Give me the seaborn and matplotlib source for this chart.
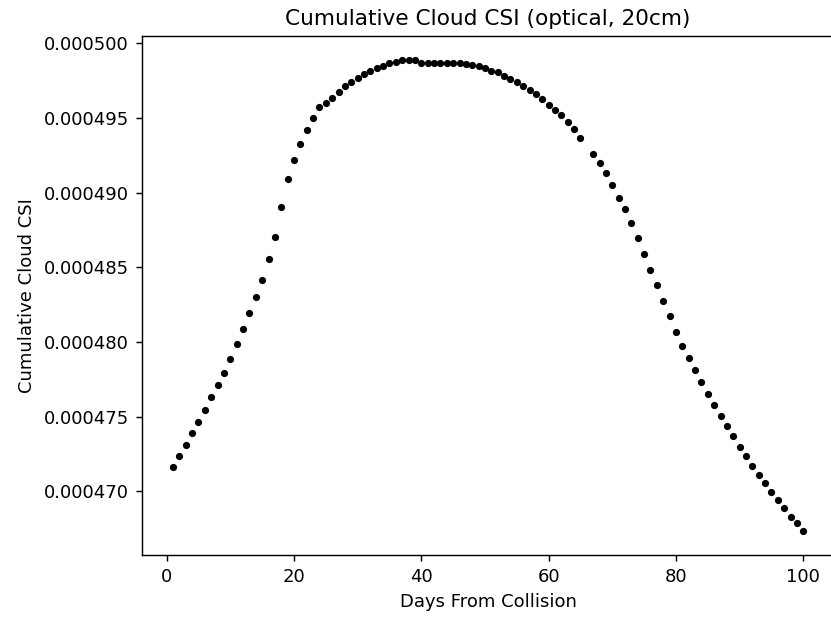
import matplotlib
matplotlib.use("Agg")
import matplotlib.pyplot as plt
import seaborn as sns
import pandas as pd

# Days after the collision (day 66 has no sample)
days = [1, 2, 3, 4, 5, 6, 7, 8, 9, 10,
        11, 12, 13, 14, 15, 16, 17, 18, 19, 20,
        21, 22, 23, 24, 25, 26, 27, 28, 29, 30,
        31, 32, 33, 34, 35, 36, 37, 38, 39, 40,
        41, 42, 43, 44, 45, 46, 47, 48, 49, 50,
        51, 52, 53, 54, 55, 56, 57, 58, 59, 60,
        61, 62, 63, 64, 65, 67, 68, 69, 70,
        71, 72, 73, 74, 75, 76, 77, 78, 79, 80,
        81, 82, 83, 84, 85, 86, 87, 88, 89, 90,
        91, 92, 93, 94, 95, 96, 97, 98, 99, 100]

# Cumulative cloud CSI for the optical sensor, 20 cm objects
csi = [0.00047165, 0.00047237, 0.00047310, 0.00047393, 0.00047462,
       0.00047545, 0.00047634, 0.00047714, 0.00047794, 0.00047886,
       0.00047985, 0.00048085, 0.00048194, 0.00048301, 0.00048417,
       0.00048554, 0.00048705, 0.00048906, 0.00049093, 0.00049221,
       0.00049328, 0.00049419, 0.00049500, 0.00049571, 0.00049602,
       0.00049636, 0.00049672, 0.00049716, 0.00049743, 0.00049770,
       0.00049796, 0.00049813, 0.00049835, 0.00049848, 0.00049865,
       0.00049877, 0.00049890, 0.00049890, 0.00049890, 0.00049870,
       0.00049870, 0.00049870, 0.00049870, 0.00049870, 0.00049870,
       0.00049870, 0.00049861, 0.00049853, 0.00049848, 0.00049833,
       0.00049815, 0.00049806, 0.00049781, 0.00049761, 0.00049739,
       0.00049716, 0.00049689, 0.00049661, 0.00049625, 0.00049589,
       0.00049553, 0.00049518, 0.00049473, 0.00049426, 0.00049364,
       0.00049257, 0.00049201, 0.00049130, 0.00049049,
       0.00048966, 0.00048888, 0.00048797, 0.00048698, 0.00048589,
       0.00048480, 0.00048384, 0.00048274, 0.00048174, 0.00048066,
       0.00047975, 0.00047895, 0.00047814, 0.00047732, 0.00047654,
       0.00047578, 0.00047506, 0.00047435, 0.00047370, 0.00047299,
       0.00047235, 0.00047172, 0.00047109, 0.00047056, 0.00046993,
       0.00046940, 0.00046886, 0.00046830, 0.00046786, 0.00046732]

title = "Cumulative Cloud CSI (optical, 20cm)"
x_label = "Days From Collision"
y_label = "Cumulative Cloud CSI"

df = pd.DataFrame({"day": days, "csi": csi})

plt.rcParams.update({
    "font.family": ["DejaVu Sans"],
    "font.size": 13,
    "axes.titlesize": 15.6,
    "axes.labelsize": 13,
    "axes.linewidth": 1.04,
    "axes.titlepad": 7.8,
    "axes.labelpad": 5.2,
    "xtick.major.size": 4.55,
    "ytick.major.size": 4.55,
    "xtick.major.width": 1.04,
    "ytick.major.width": 1.04,
    "xtick.major.pad": 4.55,
    "ytick.major.pad": 4.55,
    "xtick.labelsize": 13,
    "ytick.labelsize": 13,
})

fig = plt.figure(figsize=(8.31, 6.19), dpi=100)
ax = fig.add_axes([0.17028, 0.10355, 0.83429, 0.83813])

sns.scatterplot(data=df, x="day", y="csi", ax=ax, color="black",
                marker="o", s=27, linewidth=0)

ax.set_title(title)
ax.set_xlabel(x_label)
ax.set_ylabel(y_label)
ax.set_xticks([0, 20, 40, 60, 80, 100])
ax.yaxis.set_major_formatter(matplotlib.ticker.FormatStrFormatter("%.6f"))

# 5% padding around the data range on both axes
xmin, xmax = min(days), max(days)
ymin, ymax = min(csi), max(csi)
xpad = 0.05 * (xmax - xmin)
ypad = 0.05 * (ymax - ymin)
ax.set_xlim(xmin - xpad, xmax + xpad)
ax.set_ylim(ymin - ypad, ymax + ypad)

# the right edge of the frame falls past the canvas border
ax.spines["right"].set_visible(False)

fig.savefig("out.png", dpi=100)
